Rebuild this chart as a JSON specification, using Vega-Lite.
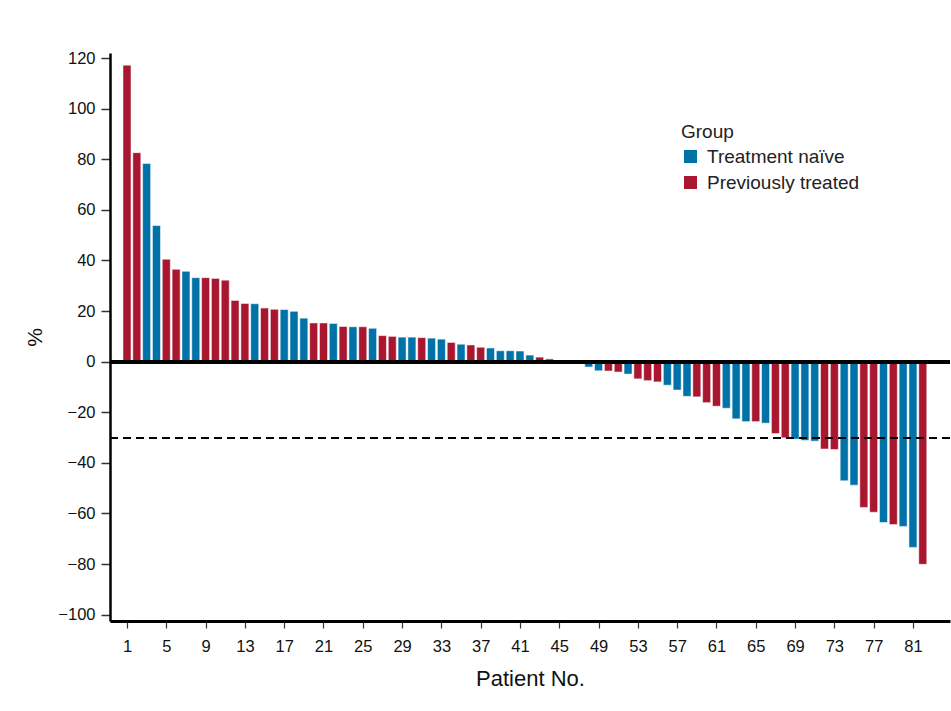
{
  "$schema": "https://vega.github.io/schema/vega-lite/v6.json",
  "width": 840,
  "height": 568,
  "autosize": {"type": "none"},
  "padding": {"left": 110, "top": 53, "right": 1, "bottom": 90},
  "background": "white",
  "config": {
    "view": {"stroke": null},
    "font": "Liberation Sans",
    "axis": {"grid": false}
  },
  "data": {
    "values": [
      {"p": 1, "v": 117.2, "g": "Previously treated"},
      {"p": 2, "v": 82.6, "g": "Previously treated"},
      {"p": 3, "v": 78.3, "g": "Treatment naïve"},
      {"p": 4, "v": 53.8, "g": "Treatment naïve"},
      {"p": 5, "v": 40.5, "g": "Previously treated"},
      {"p": 6, "v": 36.5, "g": "Previously treated"},
      {"p": 7, "v": 35.7, "g": "Treatment naïve"},
      {"p": 8, "v": 33.2, "g": "Treatment naïve"},
      {"p": 9, "v": 33.2, "g": "Previously treated"},
      {"p": 10, "v": 32.9, "g": "Previously treated"},
      {"p": 11, "v": 32.2, "g": "Previously treated"},
      {"p": 12, "v": 24.2, "g": "Previously treated"},
      {"p": 13, "v": 23.0, "g": "Previously treated"},
      {"p": 14, "v": 22.9, "g": "Treatment naïve"},
      {"p": 15, "v": 21.2, "g": "Previously treated"},
      {"p": 16, "v": 20.7, "g": "Previously treated"},
      {"p": 17, "v": 20.6, "g": "Treatment naïve"},
      {"p": 18, "v": 19.9, "g": "Treatment naïve"},
      {"p": 19, "v": 17.2, "g": "Treatment naïve"},
      {"p": 20, "v": 15.3, "g": "Previously treated"},
      {"p": 21, "v": 15.3, "g": "Previously treated"},
      {"p": 22, "v": 15.1, "g": "Treatment naïve"},
      {"p": 23, "v": 13.9, "g": "Previously treated"},
      {"p": 24, "v": 13.8, "g": "Treatment naïve"},
      {"p": 25, "v": 13.8, "g": "Previously treated"},
      {"p": 26, "v": 13.2, "g": "Treatment naïve"},
      {"p": 27, "v": 10.3, "g": "Previously treated"},
      {"p": 28, "v": 10.0, "g": "Previously treated"},
      {"p": 29, "v": 9.7, "g": "Treatment naïve"},
      {"p": 30, "v": 9.7, "g": "Treatment naïve"},
      {"p": 31, "v": 9.5, "g": "Previously treated"},
      {"p": 32, "v": 9.3, "g": "Treatment naïve"},
      {"p": 33, "v": 8.9, "g": "Treatment naïve"},
      {"p": 34, "v": 7.6, "g": "Previously treated"},
      {"p": 35, "v": 6.9, "g": "Treatment naïve"},
      {"p": 36, "v": 6.6, "g": "Previously treated"},
      {"p": 37, "v": 5.7, "g": "Previously treated"},
      {"p": 38, "v": 5.4, "g": "Treatment naïve"},
      {"p": 39, "v": 4.3, "g": "Treatment naïve"},
      {"p": 40, "v": 4.3, "g": "Treatment naïve"},
      {"p": 41, "v": 4.2, "g": "Treatment naïve"},
      {"p": 42, "v": 2.6, "g": "Treatment naïve"},
      {"p": 43, "v": 1.8, "g": "Previously treated"},
      {"p": 44, "v": 1.1, "g": "Treatment naïve"},
      {"p": 45, "v": 0, "g": "Treatment naïve"},
      {"p": 46, "v": 0, "g": "Previously treated"},
      {"p": 47, "v": 0, "g": "Treatment naïve"},
      {"p": 48, "v": -2.1, "g": "Treatment naïve"},
      {"p": 49, "v": -3.6, "g": "Treatment naïve"},
      {"p": 50, "v": -3.7, "g": "Previously treated"},
      {"p": 51, "v": -4.1, "g": "Previously treated"},
      {"p": 52, "v": -4.9, "g": "Treatment naïve"},
      {"p": 53, "v": -6.8, "g": "Previously treated"},
      {"p": 54, "v": -7.5, "g": "Previously treated"},
      {"p": 55, "v": -8.0, "g": "Previously treated"},
      {"p": 56, "v": -9.3, "g": "Treatment naïve"},
      {"p": 57, "v": -11.2, "g": "Treatment naïve"},
      {"p": 58, "v": -13.7, "g": "Treatment naïve"},
      {"p": 59, "v": -13.9, "g": "Previously treated"},
      {"p": 60, "v": -16.2, "g": "Previously treated"},
      {"p": 61, "v": -17.6, "g": "Previously treated"},
      {"p": 62, "v": -18.4, "g": "Treatment naïve"},
      {"p": 63, "v": -22.6, "g": "Treatment naïve"},
      {"p": 64, "v": -23.7, "g": "Treatment naïve"},
      {"p": 65, "v": -23.7, "g": "Previously treated"},
      {"p": 66, "v": -24.3, "g": "Treatment naïve"},
      {"p": 67, "v": -28.4, "g": "Previously treated"},
      {"p": 68, "v": -30.1, "g": "Previously treated"},
      {"p": 69, "v": -30.6, "g": "Treatment naïve"},
      {"p": 70, "v": -31.1, "g": "Treatment naïve"},
      {"p": 71, "v": -31.4, "g": "Treatment naïve"},
      {"p": 72, "v": -34.5, "g": "Previously treated"},
      {"p": 73, "v": -34.7, "g": "Previously treated"},
      {"p": 74, "v": -47.1, "g": "Treatment naïve"},
      {"p": 75, "v": -48.8, "g": "Treatment naïve"},
      {"p": 76, "v": -57.6, "g": "Previously treated"},
      {"p": 77, "v": -59.5, "g": "Previously treated"},
      {"p": 78, "v": -63.6, "g": "Treatment naïve"},
      {"p": 79, "v": -64.4, "g": "Previously treated"},
      {"p": 80, "v": -65.1, "g": "Treatment naïve"},
      {"p": 81, "v": -73.4, "g": "Treatment naïve"},
      {"p": 82, "v": -80.1, "g": "Previously treated"}
    ]
  },
  "layer": [
    {
      "mark": {"type": "bar", "size": 8, "stroke": "white", "strokeOpacity": 0.5, "strokeWidth": 1},
      "encoding": {
        "x": {
          "field": "p", "type": "quantitative",
          "scale": {"domain": [-0.73, 84.77], "nice": false, "zero": false, "padding": 0},
          "axis": {
            "values": [1, 5, 9, 13, 17, 21, 25, 29, 33, 37, 41, 45, 49, 53, 57, 61, 65, 69, 73, 77, 81],
            "title": "Patient No.",
            "titleFont": "Liberation Sans",
            "titleFontSize": 22,
            "titleFontWeight": "normal",
            "titleColor": "#111",
            "titlePadding": 14,
            "labelFont": "Liberation Sans",
            "labelFontSize": 16.5,
            "labelColor": "#111",
            "labelPadding": 10,
            "labelFlush": false,
            "tickSize": 7,
            "tickColor": "#333",
            "tickWidth": 1.2,
            "domainColor": "black",
            "domainWidth": 3
          }
        },
        "y": {
          "field": "v", "type": "quantitative",
          "scale": {"domain": [-102.5, 122], "nice": false, "zero": false},
          "axis": {
            "values": [-100, -80, -60, -40, -20, 0, 20, 40, 60, 80, 100, 120],
            "title": "%",
            "titleFont": "Liberation Sans",
            "titleFontSize": 21,
            "titleFontWeight": "normal",
            "titleColor": "#111",
            "titlePadding": 12,
            "labelFont": "Liberation Sans",
            "labelFontSize": 16.5,
            "labelColor": "#111",
            "labelPadding": 6,
            "labelExpr": "replace(datum.label, '-', '−')",
            "tickSize": 9,
            "tickColor": "#333",
            "tickWidth": 1.5,
            "domainColor": "black",
            "domainWidth": 2.5
          }
        },
        "color": {
          "field": "g", "type": "nominal",
          "scale": {"domain": ["Treatment naïve", "Previously treated"], "range": ["#0072A8", "#A8162F"]},
          "legend": {
            "title": "Group",
            "orient": "none",
            "legendX": 571,
            "legendY": 70,
            "titleFont": "Liberation Sans",
            "titleFontSize": 19,
            "titleFontWeight": "normal",
            "titleColor": "#222",
            "titlePadding": 5,
            "labelFont": "Liberation Sans",
            "labelFontSize": 19,
            "labelColor": "#222",
            "labelOffset": 7,
            "symbolType": "square",
            "symbolSize": 170,
            "symbolStrokeWidth": 0,
            "rowPadding": 6
          }
        }
      }
    },
    {
      "mark": {"type": "rule", "color": "black", "strokeWidth": 3},
      "encoding": {"y": {"datum": 0}}
    },
    {
      "mark": {"type": "rule", "color": "black", "strokeWidth": 1.3, "strokeDash": [8, 5]},
      "encoding": {"y": {"datum": -30}}
    }
  ]
}
